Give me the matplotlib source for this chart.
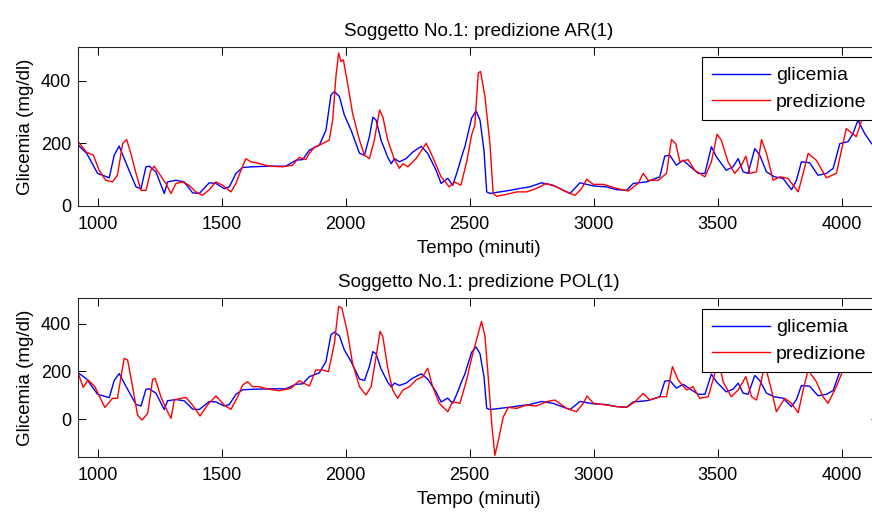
import matplotlib
matplotlib.use("Agg")
import matplotlib.pyplot as plt

plt.rcParams['font.family'] = ['Liberation Sans', 'DejaVu Sans']

# ---- data ----
t_gli = [922, 956, 1000, 1020, 1047, 1067, 1087, 1121, 1155, 1175, 1195, 1208, 1235, 1269, 1282,
         1316, 1349, 1383, 1410, 1450, 1477, 1511, 1531, 1558, 1585, 1625, 1692, 1759, 1800, 1827,
         1854, 1894, 1921, 1941, 1955, 1975, 1995, 2022, 2056, 2076, 2096, 2110, 2123, 2143, 2170,
         2184, 2197, 2217, 2244, 2271, 2305, 2331, 2365, 2385, 2412, 2432, 2452, 2472, 2481, 2508,
         2526, 2542, 2558, 2569, 2582, 2622, 2663, 2703, 2743, 2790, 2837, 2878, 2905, 2945, 2999,
         3052, 3093, 3133, 3160, 3214, 3267, 3287, 3307, 3334, 3361, 3388, 3422, 3449, 3475, 3495,
         3535, 3562, 3583, 3603, 3623, 3650, 3670, 3697, 3730, 3764, 3798, 3818, 3838, 3871, 3905,
         3939, 3966, 3993, 4026, 4046, 4066, 4093, 4121, 4150]
v_gli = [194, 168, 104, 98, 90, 162, 191, 125, 61, 55, 125, 127, 109, 40, 77,
         82, 77, 42, 40, 74, 72, 55, 61, 104, 123, 125, 127, 127, 146, 148,
         178, 194, 242, 354, 365, 349, 290, 242, 168, 162, 221, 283, 274, 210, 155,
         135, 151, 141, 151, 172, 190, 168, 114, 72, 88, 66, 114, 168, 189, 280,
         303, 274, 178, 45, 40, 45, 50, 56, 61, 74, 66, 50, 40, 74, 64,
         61, 52, 50, 72, 77, 93, 159, 162, 130, 146, 127, 104, 104, 189, 157,
         114, 125, 151, 109, 104, 183, 162, 109, 93, 88, 52, 82, 141, 138, 98,
         104, 120, 199, 205, 231, 274, 231, 199, 180]

t_ar = [922, 956, 983, 1006, 1033, 1060, 1080, 1101, 1117, 1134, 1155, 1175, 1195, 1215, 1228,
        1248, 1275, 1296, 1316, 1342, 1369, 1396, 1423, 1450, 1477, 1504, 1538, 1558, 1578, 1598,
        1618, 1638, 1692, 1746, 1786, 1813, 1840, 1854, 1874, 1907, 1934, 1948, 1961, 1972, 1981,
        1991, 2008, 2028, 2056, 2076, 2096, 2116, 2137, 2150, 2170, 2197, 2217, 2231, 2251, 2284,
        2325, 2351, 2385, 2418, 2439, 2465, 2488, 2508, 2521, 2535, 2544, 2562, 2582, 2595, 2609,
        2649, 2690, 2730, 2770, 2810, 2851, 2891, 2925, 2952, 2972, 2999, 3039, 3093, 3140, 3180,
        3200, 3220, 3261, 3294, 3314, 3331, 3348, 3381, 3408, 3449, 3475, 3498, 3515, 3542, 3569,
        3596, 3614, 3630, 3657, 3677, 3697, 3724, 3751, 3784, 3825, 3845, 3865, 3898, 3939, 3979,
        4019, 4059, 4086, 4121, 4150]
v_ar = [205, 171, 162, 114, 82, 77, 98, 199, 212, 168, 104, 50, 50, 114, 127,
        104, 72, 40, 72, 77, 66, 45, 34, 52, 77, 66, 45, 72, 114, 151,
        141, 138, 127, 125, 130, 155, 148, 168, 187, 199, 210, 274, 413, 488, 461,
        466, 391, 296, 210, 162, 151, 210, 306, 285, 210, 148, 120, 135, 125, 151,
        200, 157, 93, 61, 77, 66, 140, 226, 258, 424, 429, 349, 199, 40, 31,
        37, 45, 45, 56, 72, 61, 45, 34, 56, 85, 69, 69, 56, 48, 72,
        104, 82, 82, 104, 212, 199, 141, 148, 114, 93, 141, 229, 210, 141, 104,
        130, 159, 104, 109, 212, 168, 82, 93, 88, 45, 104, 168, 146, 90, 104,
        247, 221, 285, 300, 270]

t_pol = [922, 942, 962, 989, 1029, 1060, 1080, 1107, 1121, 1141, 1161, 1179, 1202, 1222, 1232,
         1255, 1282, 1296, 1309, 1336, 1356, 1383, 1413, 1443, 1477, 1511, 1538, 1565, 1585, 1605,
         1625, 1652, 1692, 1732, 1779, 1813, 1833, 1854, 1880, 1907, 1931, 1955, 1972, 1985, 2008,
         2028, 2056, 2082, 2103, 2123, 2139, 2150, 2170, 2190, 2210, 2231, 2258, 2284, 2311, 2331,
         2351, 2378, 2412, 2432, 2461, 2488, 2508, 2528, 2548, 2562, 2575, 2589, 2602, 2616, 2636,
         2656, 2690, 2730, 2770, 2810, 2844, 2891, 2931, 2958, 2974, 2999, 3052, 3099, 3133, 3167,
         3200, 3227, 3267, 3294, 3318, 3341, 3375, 3401, 3428, 3462, 3489, 3502, 3522, 3555, 3583,
         3614, 3637, 3657, 3677, 3690, 3717, 3737, 3771, 3798, 3825, 3845, 3865, 3898, 3925, 3945,
         3979, 4006, 4059, 4121, 4150]
v_pol = [192, 133, 164, 136, 49, 87, 87, 255, 248, 136, 17, -4, 24, 167, 171,
         94, 31, 3, 80, 87, 91, 59, 13, 59, 97, 59, 41, 94, 143, 157,
         136, 136, 125, 119, 129, 161, 150, 139, 206, 206, 199, 319, 473, 466, 361,
         234, 136, 101, 136, 262, 368, 347, 213, 122, 87, 122, 136, 164, 178, 213,
         136, 66, 31, 73, 66, 164, 255, 333, 410, 347, 178, -18, -152, -89, 10,
         49, 45, 59, 55, 73, 80, 45, 31, 66, 97, 66, 59, 52, 49, 73,
         108, 80, 94, 94, 220, 164, 122, 136, 87, 94, 192, 262, 157, 94, 122,
         178, 94, 80, 164, 234, 122, 31, 87, 66, 27, 122, 206, 157, 94, 66,
         136, 206, 234, 220, 215]

titles = ["Soggetto No.1: predizione AR(1)", "Soggetto No.1: predizione POL(1)"]
preds = [(t_ar, v_ar), (t_pol, v_pol)]
labels = ["glicemia", "predizione"]
xlabel = "Tempo (minuti)"
ylabel = "Glicemia (mg/dl)"
xticks = [1000, 1500, 2000, 2500, 3000, 3500, 4000]
yticks = [0, 200, 400]
ylims = [(0, 507), (-159, 508)]
xlim = (921, 4150)

W, H = 872, 512
fig = plt.figure(figsize=(W / 100, H / 100), dpi=100)

ax_px = [(78, 47, 206), (78, 298, 457)]  # left, top, bottom in pixels
right_px = 78 + (xlim[1] - xlim[0]) * 0.248
leg_px = [(702, 57), (702, 309)]

for i in range(2):
    left, top, bot = ax_px[i]
    ax = fig.add_axes([left / W, 1 - bot / H, (right_px - left) / W, (bot - top) / H])
    l1, = ax.plot(t_gli, v_gli, color=(0, 0, 1), lw=1.0, label=labels[0])
    l2, = ax.plot(preds[i][0], preds[i][1], color=(1, 0, 0), lw=1.0, label=labels[1])
    ax.set_xlim(*xlim)
    ax.set_ylim(*ylims[i])
    ax.set_xticks(xticks)
    ax.set_yticks(yticks)
    ax.tick_params(direction='in', length=5.5, width=0.7, top=True, right=True,
                   labelsize=13, colors='black')
    ax.tick_params(axis='x', pad=7)
    ax.tick_params(axis='y', pad=5)
    for s in ax.spines.values():
        s.set_linewidth(0.8)
        s.set_color('#262626')
    ax.set_title(titles[i], fontsize=13.5, pad=8)
    ax.set_xlabel(xlabel, fontsize=13.5, labelpad=5)
    ax.set_ylabel(ylabel, fontsize=13.5, labelpad=5)
    lx, ly = leg_px[i]
    leg = ax.legend(handles=[l1, l2], loc='upper left',
                    bbox_to_anchor=(lx / W, 1 - ly / H), bbox_transform=fig.transFigure,
                    fontsize=14, frameon=True, fancybox=False, framealpha=1,
                    edgecolor='black', handlelength=3.0, handletextpad=0.3,
                    labelspacing=0.45, borderpad=0.5, borderaxespad=0)
    leg.get_frame().set_linewidth(0.8)

fig.savefig("out.png", dpi=100)
